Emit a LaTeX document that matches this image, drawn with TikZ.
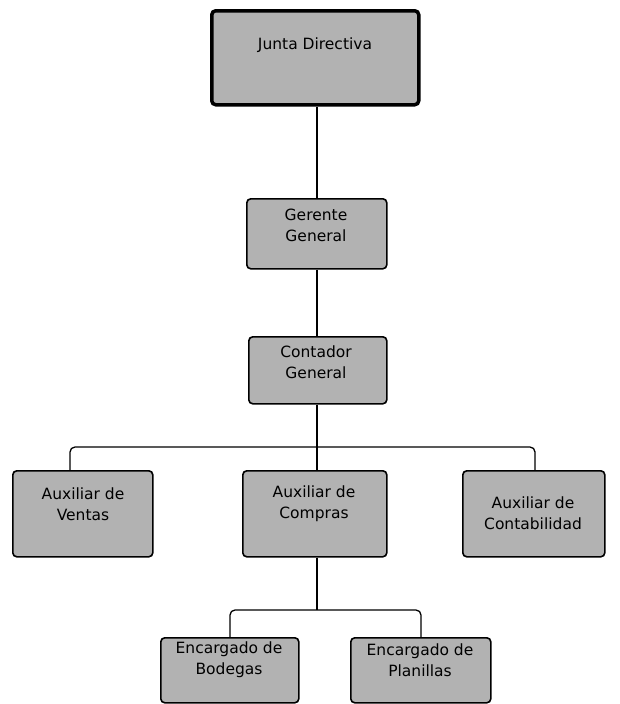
\documentclass[tikz,border=0pt]{standalone}
\usepackage{fontspec}
\setmainfont{DejaVu Sans}
\begin{document}
\begin{tikzpicture}[x=1pt,y=-1pt,
  box/.style={draw=black, line width=1.6pt, rounded corners=4pt, fill=black!30,
     inner sep=0pt, anchor=north west},
  lbl/.style={font=\fontsize{15.5}{21}\selectfont, align=center, inner sep=0pt},
  link/.style={draw=black, line width=1.3pt, rounded corners=5pt}]
\useasboundingbox (0,0) rectangle (619,704);
\node[box, line width=3.5pt, minimum width=207pt, minimum height=94pt] (jd) at (210,9) {};
\node[lbl] (tjd) at (315,45) {Junta Directiva};
\node[box, minimum width=140pt, minimum height=70pt] (gg) at (246,198) {};
\node[lbl] (tgg) at (316,225) {Gerente\\General};
\node[box, minimum width=138pt, minimum height=67pt] (cg) at (248,336) {};
\node[lbl] (tcg) at (316,362) {Contador\\General};
\node[box, minimum width=140pt, minimum height=86pt] (av) at (12,470) {};
\node[lbl] (tav) at (83,504) {Auxiliar de\\Ventas};
\node[box, minimum width=144pt, minimum height=86pt] (ac) at (242,470) {};
\node[lbl] (tac) at (314,504) {Auxiliar de\\Compras};
\node[box, minimum width=142pt, minimum height=86pt] (at) at (462,470) {};
\node[lbl] (tat) at (533,513) {Auxiliar de\\Contabilidad};
\node[box, minimum width=138pt, minimum height=65pt] (eb) at (160,637) {};
\node[lbl] (teb) at (229,660) {Encargado de\\Bodegas};
\node[box, minimum width=140pt, minimum height=65pt] (ep) at (350,637) {};
\node[lbl] (tep) at (420,660) {Encargado de\\Planillas};
\coordinate (b1) at (317,447);
\coordinate (b2) at (317,610);
\draw[link] (jd.south -| b1) -- (gg.north -| b1);
\draw[link] (gg.south -| b1) -- (cg.north -| b1);
\draw[link] (cg.south -| b1) -- (b1);
\draw[link] (b1) -- (ac.north -| b1);
\draw[link] (av.north -| 70,0) -- (70,447) -- (535,447) -- (at.north -| 535,0);
\draw[link] (ac.south -| b1) -- (b2);
\draw[link] (eb.north -| 230,0) -- (230,610) -- (421,610) -- (ep.north -| 421,0);
\end{tikzpicture}
\end{document}
